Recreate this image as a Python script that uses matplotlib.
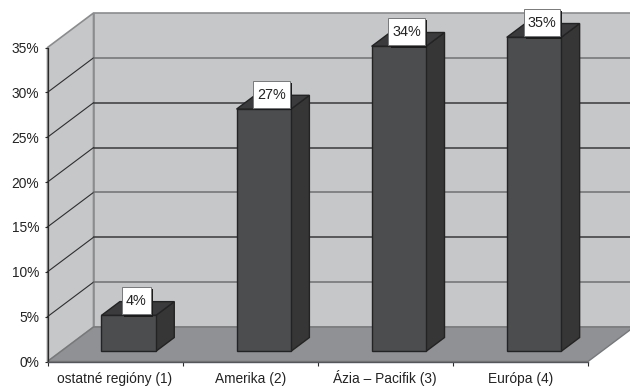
import matplotlib
matplotlib.use("Agg")
import matplotlib.pyplot as plt
from matplotlib.patches import Polygon
from matplotlib.path import Path
import matplotlib.patheffects as pe

plt.rcParams["font.family"] = ["Liberation Sans", "DejaVu Sans"]

# Data
categories = ["ostatné regióny (1)", "Amerika (2)", "Ázia – Pacifik (3)", "Európa (4)"]
shares = [4, 27, 34, 35]
percent_ticks = [0, 5, 10, 15, 20, 25, 30, 35]
# Colour of each back-wall gridline, from 5% to 30%
grid_colours = ["#6f7072", "#3a3a3c", "#6f7072", "#3a3a3c", "#3a3a3c", "#707173"]

# Oblique depth of the chart box, in data units
DEPTH_X = 0.3405
DEPTH_Y = 3.846
BAR_WIDTH = 0.403
BAR_NEAR = 0.295
BAR_FAR = 0.695

WALL = "#c6c7c9"
FLOOR = "#909194"
EDGE = "#8b8c8e"
BAR_FRONT = "#4c4d4f"
BAR_SIDE = "#363637"
BAR_TOP = "#3b3b3d"
BAR_EDGE = "#232324"
INK = "#232323"

W, H = 630, 387
fig = plt.figure(figsize=(W / 100, H / 100), dpi=100, facecolor="white")
ax = fig.add_axes([47.5 / W, (H - 361.5) / H, 540.5 / W, 314 / H])
ax.set_xlim(0, 4)
ax.set_ylim(0, 35)
ax.patch.set_visible(False)


def project(x, y, d):
    """Shift a point (category, percent) backwards by depth fraction d."""
    return (x + DEPTH_X * d, y + DEPTH_Y * d)


def poly(points, face, edge, lw=1.0, z=1):
    ax.add_patch(Polygon([project(*p) for p in points], closed=True, facecolor=face,
                         edgecolor=edge, linewidth=lw, clip_on=False, zorder=z,
                         joinstyle="miter"))


def flag_box(x0, y0, width, height, mutation_size):
    """Rectangle around a value label, with more padding above and below than beside."""
    pad_x = 0.27 * mutation_size
    pad_y = 0.46 * mutation_size
    x1, y1 = x0 + width + pad_x, y0 + height + pad_y
    x0, y0 = x0 - pad_x, y0 - pad_y
    return Path([(x0, y0), (x1, y0), (x1, y1), (x0, y1), (x0, y0)],
                [Path.MOVETO, Path.LINETO, Path.LINETO, Path.LINETO, Path.CLOSEPOLY])


top = percent_ticks[-1]
n = len(categories)

# Side wall, back wall, floor
poly([(0, 0, 0), (0, 0, 1), (0, top, 1), (0, top, 0)], WALL, EDGE, 1.2, 1)
poly([(0, 0, 1), (n, 0, 1), (n, top, 1), (0, top, 1)], WALL, EDGE, 1.2, 1)

for level, colour in zip(percent_ticks[1:-1], grid_colours):
    xs, ys = zip(project(0, level, 0), project(0, level, 1))
    ax.plot(xs, ys, color="#2e2e30", lw=0.8, clip_on=False, zorder=2)
    xs, ys = zip(project(0, level, 1), project(n, level, 1))
    ax.plot(xs, ys, color=colour, lw=1.1, clip_on=False, zorder=2)

poly([(0, 0, 0), (n, 0, 0), (n, 0, 1), (0, 0, 1)], FLOOR, "#77787a", 1.0, 3)

# Bars with value flags
for i, value in enumerate(shares):
    left = i + 0.5 - BAR_WIDTH / 2
    right = i + 0.5 + BAR_WIDTH / 2
    poly([(right, 0, BAR_NEAR), (right, 0, BAR_FAR), (right, value, BAR_FAR), (right, value, BAR_NEAR)],
         BAR_SIDE, BAR_EDGE, 1.0, 4)
    poly([(left, value, BAR_NEAR), (right, value, BAR_NEAR), (right, value, BAR_FAR), (left, value, BAR_FAR)],
         BAR_TOP, BAR_EDGE, 1.0, 4)
    poly([(left, 0, BAR_NEAR), (right, 0, BAR_NEAR), (right, value, BAR_NEAR), (left, value, BAR_NEAR)],
         BAR_FRONT, BAR_EDGE, 1.0, 5)
    label = ax.annotate(f"{value}%", xy=project(i + 0.5, value, BAR_NEAR),
                        xytext=(5.6, 10.5), textcoords="offset points",
                        ha="center", va="center", fontsize=10.4, color=INK,
                        annotation_clip=False, zorder=7,
                        bbox=dict(boxstyle=flag_box, facecolor="white",
                                  edgecolor="#77787a", linewidth=0.7))
    label.get_bbox_patch().set_path_effects([
        pe.SimplePatchShadow(offset=(1.6, -1.6), shadow_rgbFace="#1c1c1d", alpha=1.0),
        pe.Normal(),
    ])

# Axes furniture
for side in ("top", "right"):
    ax.spines[side].set_visible(False)
ax.spines["left"].set_color("#2a2a2b")
ax.spines["left"].set_linewidth(0.9)
ax.spines["bottom"].set_color("#55565a")
ax.spines["bottom"].set_linewidth(1.0)
for spine in ax.spines.values():
    spine.set_zorder(6)

ax.set_yticks(percent_ticks)
ax.set_yticklabels([f"{p}%" for p in percent_ticks], fontsize=9.9, color=INK)
ax.tick_params(axis="y", length=2.4, width=0.8, color="#2a2a2b", pad=3.5)

ax.set_xticks(range(n + 1))
ax.set_xticklabels([])
ax.tick_params(axis="x", length=2.8, width=0.8, color="#2a2a2b")
ax.set_xticks([i + 0.5 for i in range(n)], minor=True)
ax.set_xticklabels(categories, minor=True, fontsize=9.9, color=INK, va="baseline")
ax.tick_params(axis="x", which="minor", length=0, pad=15.8)

fig.savefig("out.png", dpi=100, facecolor="white")
